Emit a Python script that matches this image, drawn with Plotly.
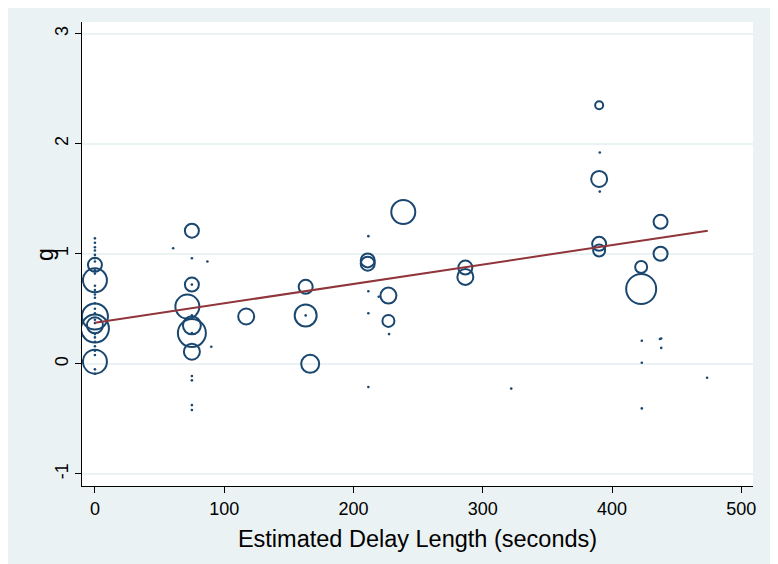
import numpy as np
import plotly.graph_objects as go

# Weighted observations (x = delay seconds, y = g, weight)
circ_x = [0, 0, 0, 0, 0, 0,
          75, 75, 71.5, 75, 75, 75,
          117, 163, 163, 166.5, 211, 211, 238.5, 227, 227,
          286.5, 286.5, 390, 390, 390, 390, 437.5, 437.5, 422.5, 422.5]
circ_y = [0.90, 0.76, 0.43, 0.35, 0.32, 0.02,
          1.21, 0.72, 0.52, 0.35, 0.28, 0.11,
          0.43, 0.70, 0.44, 0.00, 0.94, 0.91, 1.38, 0.62, 0.39,
          0.875, 0.79, 2.35, 1.68, 1.09, 1.03, 1.29, 1.00, 0.88, 0.68]
circ_w = [49, 144, 169, 64, 196, 144,
          49, 49, 144, 81, 196, 64,
          64, 49, 121, 81, 49, 49, 144, 64, 36,
          49, 64, 16, 64, 49, 36, 49, 49, 36, 225]

# Very small-weight observations (drawn as dots)
dot_x = [0] * 26 + [75] * 8 + [60.5, 87, 90, 163, 211.5, 211.5, 211.5, 211.5, 219.5, 227.5,
                               322, 390.5, 390.5, 423, 423, 423, 438, 437, 438, 473.5]
dot_y = [1.14, 1.10, 1.06, 1.03, 0.99, 0.96, 0.93, 0.85, 0.82, 0.71, 0.67, 0.63, 0.60,
         0.55, 0.50, 0.46, 0.40, 0.37, 0.27, 0.24, 0.20, 0.16, 0.12, 0.08, -0.05, -0.09,
         0.96, 0.72, 0.28, 0.44, -0.11, -0.15, -0.375, -0.42,
         1.05, 0.93, 0.155, 0.44, 1.16, 0.66, 0.46, -0.21, 0.61, 0.27,
         -0.225, 1.92, 1.565, 0.21, 0.01, -0.405, 0.23, 0.225, 0.145, -0.127]

# Linear fit endpoints
fit_x = [0, 474]
fit_y = [0.373, 1.21]

x_ticks = [0, 100, 200, 300, 400, 500]
y_ticks = [-1, 0, 1, 2, 3]

NAVY = "#1A476F"
MAROON = "#90353B"
BG = "#EAF2F3"

fig = go.Figure()
fig.add_trace(go.Scatter(
    x=dot_x, y=dot_y, mode="markers",
    marker=dict(symbol="circle", size=2.6, color=NAVY, opacity=1, line=dict(width=0)),
    hoverinfo="skip", showlegend=False))
fig.add_trace(go.Scatter(
    x=circ_x, y=circ_y, mode="markers",
    marker=dict(symbol="circle-open", size=[2 * np.sqrt(w) for w in circ_w],
                color=NAVY, opacity=1, line=dict(width=2, color=NAVY)),
    showlegend=False))
fig.add_trace(go.Scatter(
    x=fit_x, y=fit_y, mode="lines",
    line=dict(color=MAROON, width=2), showlegend=False))

fig.update_layout(
    width=770, height=556,
    margin=dict(l=74, r=25, t=14, b=78),
    paper_bgcolor=BG, plot_bgcolor="white",
    font=dict(family="Liberation Sans, Arial, sans-serif", color="black", size=18),
    annotations=[dict(text="g", xref="paper", yref="paper",
                      x=-37 / 671, y=231 / 464, textangle=-90, showarrow=False,
                      xanchor="center", yanchor="middle", font=dict(size=23))],
)
fig.update_xaxes(
    range=[-10, 509], tickvals=x_ticks, ticktext=[str(v) for v in x_ticks],
    showgrid=False, zeroline=False, showline=True, linecolor="black", linewidth=1,
    ticks="outside", ticklen=6, tickcolor="black", tickfont=dict(size=18),
    automargin=False,
    title=dict(text="Estimated Delay Length (seconds)", font=dict(size=23.5), standoff=12))
fig.update_yaxes(
    range=[-1.11, 3.106], tickvals=y_ticks, ticktext=[str(v) for v in y_ticks],
    showgrid=True, gridcolor=BG, gridwidth=1.5, zeroline=False,
    showline=True, linecolor="black", linewidth=1,
    ticks="outside", ticklen=6, tickcolor="black", tickangle=-90, tickfont=dict(size=18),
    automargin=False)

fig.write_html("out.html")
